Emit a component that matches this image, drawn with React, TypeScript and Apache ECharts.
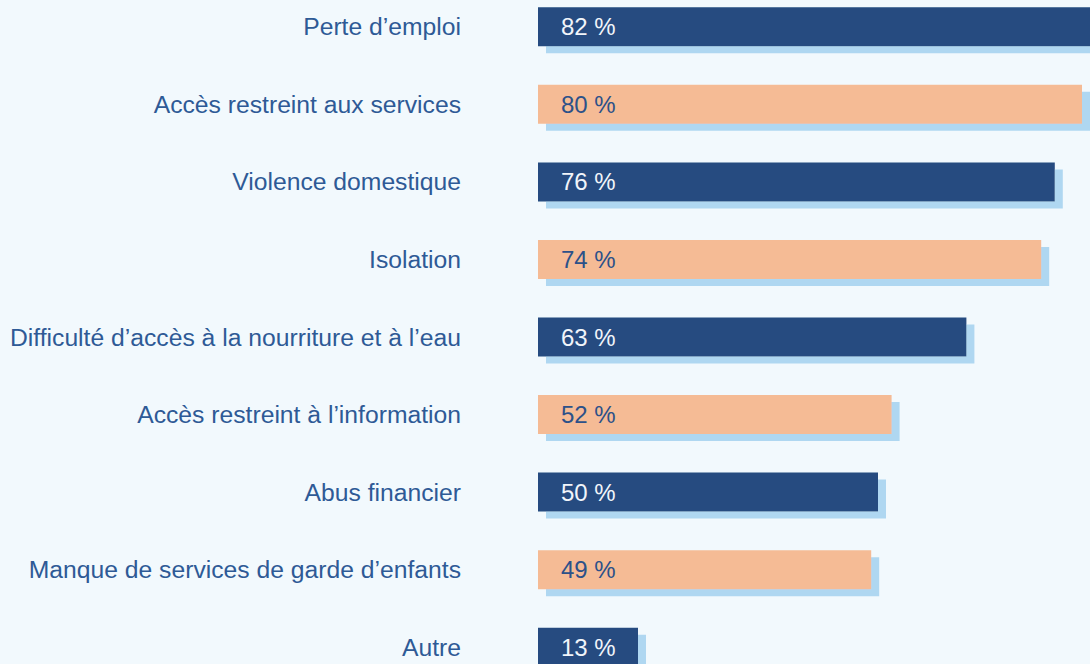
import React, { useEffect, useRef } from "react";
import * as echarts from "echarts";

const categories = [
  "Perte d’emploi",
  "Accès restreint aux services",
  "Violence domestique",
  "Isolation",
  "Difficulté d’accès à la nourriture et à l’eau",
  "Accès restreint à l’information",
  "Abus financier",
  "Manque de services de garde d’enfants",
  "Autre",
];
const values = [82, 80, 76, 74, 63, 52, 50, 49, 13];
const palette = ["#254c80", "#f5bb95"];
const labelColors = ["#f1f5fa", "#2c5189"];

export default function App() {
  const ref = useRef<HTMLDivElement>(null);
  useEffect(() => {
    document.body.style.margin = "0";
    document.body.style.overflow = "hidden";
    document.body.style.background = "#f2f9fd";
    const chart = echarts.init(ref.current!, null, { renderer: "svg" });
    chart.setOption({
      animation: false,
      backgroundColor: "#f2f9fd",
      grid: { left: 538, top: 0, right: 0, bottom: 0, containLabel: false },
      xAxis: {
        type: "value",
        min: 0,
        max: 100,
        show: false,
      },
      yAxis: {
        type: "category",
        data: categories,
        inverse: true,
        axisLine: { show: false },
        axisTick: { show: false },
        splitLine: { show: false },
        axisLabel: {
          margin: 77,
          color: "#2e5a96",
          fontSize: 24.7,
          fontFamily: "Liberation Sans",
        },
      },
      series: [
        {
          type: "bar",
          barWidth: 39,
          barMinHeight: 100,
          data: values.map((v, i) => ({
            value: v,
            itemStyle: { color: palette[i % 2] },
            label: { color: labelColors[i % 2] },
          })),
          itemStyle: {
            shadowColor: "#afd7f1",
            shadowOffsetX: 8,
            shadowOffsetY: 7,
            shadowBlur: 0,
          },
          label: {
            show: true,
            position: "insideLeft",
            distance: 23,
            formatter: "{c} %",
            fontSize: 24,
            fontFamily: "Liberation Sans",
          },
        },
      ],
    });
    return () => chart.dispose();
  }, []);
  return (
    <div style={{ position: "relative", width: 1090, height: 664, overflow: "hidden" }}>
      <div
        ref={ref}
        style={{ position: "absolute", left: 0, top: -12.25, width: 1218, height: 697.5 }}
      />
    </div>
  );
}
